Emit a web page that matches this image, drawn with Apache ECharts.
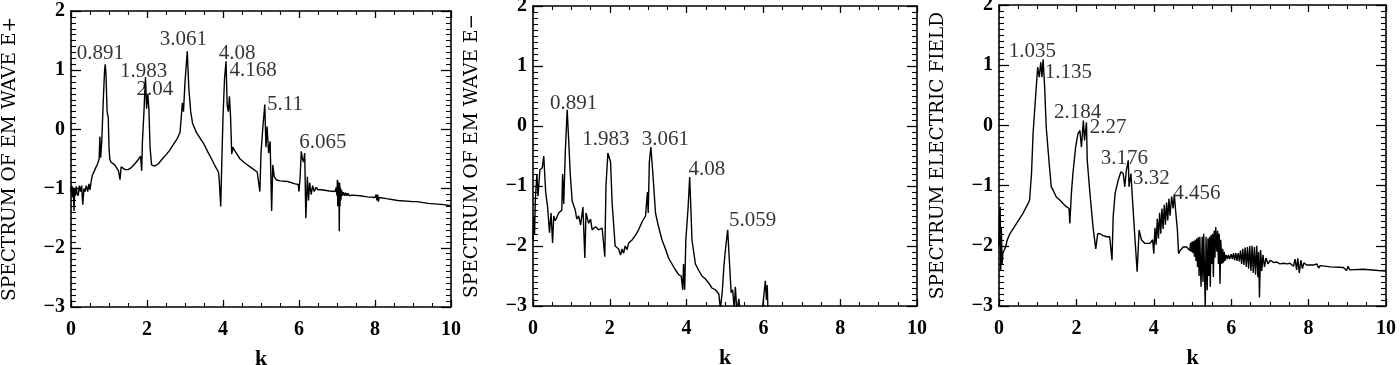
<!DOCTYPE html>
<html><head><meta charset="utf-8">
<script src="https://cdn.jsdelivr.net/npm/echarts@6/dist/echarts.min.js"></script>
<style>html,body{margin:0;padding:0;background:#fff}#c{width:1400px;height:365px}</style>
</head><body><div id="c"></div>
<script>
// ---------- data ----------
const panelTitles = ['SPECTRUM OF EM WAVE E+', 'SPECTRUM OF EM WAVE E\u2212', 'SPECTRUM ELECTRIC FIELD'];
const xAxisTitle = 'k';
const xRange = [0, 10];
const yRange = [-3, 2];

// [k, log spectrum]
const spectrumEPlus = [
[0.00,-1.05],[0.02,-0.95],[0.04,-1.15],[0.06,-0.98],[0.08,-1.38],[0.10,-1.0],[0.12,-1.12],[0.14,-0.96],[0.16,-1.08],[0.19,-1.12],[0.22,-0.95],
[0.25,-1.05],[0.28,-0.95],[0.31,-1.27],[0.34,-1.0],[0.37,-1.05],[0.40,-0.95],[0.44,-1.05],[0.47,-0.92],[0.50,-1.02],[0.53,-0.88],
[0.56,-0.78],[0.60,-0.75],[0.65,-0.65],[0.70,-0.58],[0.74,-0.5],[0.76,-0.12],[0.78,-0.48],[0.81,-0.2],[0.85,0.5],[0.88,0.95],
[0.90,1.1],[0.92,0.95],[0.95,0.3],[0.98,0.2],[1.00,-0.3],[1.02,-0.5],[1.05,-0.55],[1.10,-0.58],[1.15,-0.6],[1.20,-0.62],
[1.25,-0.7],[1.29,-0.85],[1.32,-0.63],[1.36,-0.65],[1.42,-0.68],[1.50,-0.68],[1.58,-0.65],[1.65,-0.6],[1.72,-0.55],[1.78,-0.5],
[1.83,-0.45],[1.86,-0.7],[1.88,-0.2],[1.92,0.3],[1.96,0.88],[1.99,0.35],[2.02,0.6],[2.05,0.35],[2.08,-0.3],[2.12,-0.6],
[2.20,-0.62],[2.30,-0.58],[2.40,-0.5],[2.50,-0.43],[2.60,-0.35],[2.70,-0.25],[2.80,-0.15],[2.87,-0.05],[2.93,0.45],[2.96,0.3],
[3.00,0.8],[3.06,1.32],[3.10,0.7],[3.15,0.3],[3.20,0.1],[3.30,-0.05],[3.40,-0.15],[3.50,-0.25],[3.60,-0.38],[3.70,-0.5],
[3.80,-0.63],[3.88,-0.72],[3.90,-0.85],[3.94,-1.3],[3.97,-0.5],[4.00,0.2],[4.04,0.85],[4.08,1.15],[4.11,0.4],[4.14,0.3],
[4.17,0.56],[4.20,0.2],[4.23,-0.42],[4.26,-0.3],[4.30,-0.35],[4.35,-0.4],[4.45,-0.5],[4.60,-0.58],[4.75,-0.65],[4.90,-0.72],
[4.95,-0.75],[4.97,-1.05],[5.00,-0.4],[5.05,0.05],[5.10,0.42],[5.13,-0.3],[5.16,0.05],[5.20,-0.4],[5.24,-0.2],[5.28,-1.38],
[5.31,-0.6],[5.35,-0.8],[5.40,-0.85],[5.50,-0.87],[5.70,-0.88],[5.90,-0.92],[5.98,-0.93],[6.00,-1.05],[6.03,-0.8],[6.06,-0.37],
[6.09,-0.5],[6.12,-0.55],[6.15,-0.4],[6.18,-1.5],[6.22,-0.8],[6.25,-1.2],[6.28,-0.9],[6.32,-1.1],[6.36,-0.95],[6.40,-1.05],
[6.45,-0.98],[6.50,-1.02],[6.60,-1.02],[6.80,-1.04],[6.95,-1.05],[6.98,-0.98],[7.00,-1.12],[7.01,-0.85],[7.02,-1.3],[7.03,-0.88],
[7.04,-1.25],[7.05,-0.95],[7.06,-1.72],[7.07,-0.9],[7.08,-1.3],[7.09,-0.98],[7.10,-1.2],[7.12,-1.02],[7.14,-1.12],[7.17,-1.06],
[7.20,-1.12],[7.23,-1.07],[7.26,-1.12],[7.29,-1.08],[7.32,-1.12],[7.36,-1.09],[7.40,-1.11],[7.60,-1.12],[7.80,-1.14],[8.00,-1.15],
[8.03,-1.1],[8.05,-1.2],[8.07,-1.1],[8.09,-1.22],[8.11,-1.15],[8.30,-1.17],[8.60,-1.2],[9.00,-1.22],[9.10,-1.22],[9.12,-1.25],
[9.14,-1.22],[9.40,-1.25],[9.80,-1.27],[10.00,-1.29]
];

const spectrumEMinus = [
[0.00,-1.9],[0.02,-1.5],[0.04,-1.8],[0.06,-1.25],[0.10,-0.8],[0.13,-1.17],[0.18,-0.73],[0.24,-0.7],[0.28,-0.5],[0.33,-1.1],
[0.38,-1.35],[0.43,-1.78],[0.47,-1.45],[0.51,-1.95],[0.54,-1.5],[0.58,-1.58],[0.67,-1.45],[0.75,-1.4],[0.77,-0.8],[0.80,-1.3],
[0.84,-0.45],[0.89,0.27],[0.93,-0.25],[0.97,-0.8],[1.02,-1.25],[1.10,-1.4],[1.14,-1.55],[1.19,-1.5],[1.24,-1.65],[1.30,-1.35],[1.35,-2.2],
[1.38,-1.45],[1.42,-1.55],[1.45,-1.62],[1.50,-1.55],[1.54,-1.73],[1.63,-1.68],[1.71,-1.73],[1.80,-1.7],[1.87,-2.18],[1.90,-1.0],[1.95,-0.45],[1.99,-0.42],
[2.02,-0.6],[2.06,-1.28],[2.14,-2.0],[2.23,-2.05],[2.28,-2.15],[2.32,-2.05],[2.36,-2.12],[2.40,-2.0],[2.45,-2.06],[2.49,-1.95],[2.58,-1.9],[2.67,-1.82],[2.75,-1.73],
[2.84,-1.6],[2.93,-1.5],[2.98,-1.1],[3.00,-1.45],[3.03,-0.6],[3.07,-0.35],[3.12,-0.78],[3.19,-1.45],[3.27,-1.68],[3.36,-1.9],
[3.45,-2.05],[3.53,-2.2],[3.62,-2.3],[3.71,-2.4],[3.80,-2.48],[3.86,-2.5],[3.90,-2.73],[3.92,-2.3],[3.95,-2.73],[3.98,-1.9],
[4.04,-1.35],[4.08,-0.85],[4.11,-1.35],[4.14,-1.9],[4.23,-2.3],[4.31,-2.4],[4.40,-2.5],[4.49,-2.55],[4.58,-2.62],[4.66,-2.7],
[4.75,-2.73],[4.84,-2.8],[4.88,-3.05],[4.93,-2.75],[4.97,-2.35],[5.01,-2.07],[5.07,-1.73],[5.11,-2.2],[5.16,-2.78],[5.20,-2.73],
[5.24,-3.05],[5.27,-2.68],[5.31,-3.1],[5.36,-2.88],[5.40,-3.1],[5.50,-3.3],[5.70,-3.5],[5.90,-3.4],[5.97,-3.1],[6.00,-2.9],
[6.05,-2.58],[6.08,-2.9],[6.10,-2.65],[6.12,-3.1],[6.20,-3.4]
];

const spectrumField = [
[0.00,-2.0],[0.015,-1.5],[0.03,-1.35],[0.045,-2.4],[0.06,-1.7],[0.08,-2.3],[0.10,-2.12],[0.17,-2.02],[0.21,-1.91],[0.28,-1.8],
[0.45,-1.63],[0.62,-1.46],[0.75,-1.3],[0.79,-1.24],[0.84,-0.8],[0.88,-0.14],[0.95,0.52],[1.00,0.97],[1.04,0.8],[1.08,1.05],
[1.11,0.8],[1.14,1.1],[1.18,0.63],[1.22,-0.03],[1.29,-0.58],[1.35,-1.02],[1.40,-1.08],[1.48,-1.19],[1.57,-1.24],[1.66,-1.3],
[1.74,-1.35],[1.81,-1.38],[1.83,-1.63],[1.87,-1.13],[1.91,-0.8],[1.98,-0.36],[2.04,-0.14],[2.09,-0.08],[2.13,-0.36],[2.18,0.08],
[2.21,-0.25],[2.26,0.05],[2.28,-0.58],[2.35,-1.13],[2.43,-1.69],[2.50,-2.05],[2.55,-1.8],[2.61,-1.8],[2.69,-1.83],[2.78,-1.85],
[2.86,-1.85],[2.92,-2.24],[2.95,-1.52],[3.00,-1.13],[3.08,-0.91],[3.15,-0.77],[3.21,-0.8],[3.25,-1.02],[3.29,-0.75],[3.34,-0.58],
[3.36,-1.02],[3.41,-0.8],[3.45,-1.24],[3.51,-1.85],[3.57,-2.43],[3.62,-1.74],[3.68,-1.9],[3.77,-1.96],[3.90,-1.96],[3.97,-1.9],
[4.00,-2.13],[4.03,-1.7],[4.06,-1.98],[4.09,-1.55],[4.12,-1.88],[4.15,-1.45],[4.18,-1.8],[4.21,-1.38],[4.24,-1.72],[4.27,-1.32],
[4.30,-1.65],[4.33,-1.28],[4.36,-1.58],[4.39,-1.22],[4.42,-1.5],[4.46,-1.18],[4.50,-1.38],[4.53,-1.15],[4.57,-1.46],[4.61,-1.74],[4.64,-2.13],
[4.69,-2.07],[4.76,-2.02],[4.85,-2.02],[4.90,-2.0],[4.93,-2.08],[4.95,-1.95],[4.97,-2.1],[4.99,-1.93],[5.01,-2.12],[5.03,-1.92],
[5.05,-2.18],[5.07,-1.9],[5.09,-2.25],[5.11,-1.88],[5.13,-2.35],[5.15,-1.86],[5.17,-2.5],[5.19,-1.85],[5.22,-2.68],[5.25,-1.85],
[5.27,-2.6],[5.29,-1.8],[5.33,-3.05],[5.35,-1.85],[5.38,-2.74],[5.40,-1.88],[5.42,-2.5],[5.44,-1.85],[5.46,-2.68],[5.48,-1.82],
[5.50,-2.3],[5.52,-1.8],[5.54,-2.52],[5.56,-1.75],[5.58,-2.2],[5.60,-1.69],[5.63,-2.1],[5.65,-1.75],[5.67,-2.3],[5.69,-1.8],
[5.71,-2.63],[5.73,-1.9],[5.76,-2.3],[5.78,-2.05],[5.80,-2.28],[5.82,-2.1],[5.84,-2.25],[5.87,-2.15],[5.90,-2.22],[5.93,-2.15],
[5.96,-2.22],[6.00,-2.14],[6.03,-2.22],[6.06,-2.12],[6.09,-2.24],[6.12,-2.12],[6.15,-2.25],[6.18,-2.12],[6.21,-2.26],[6.24,-2.08],
[6.27,-2.3],[6.30,-2.05],[6.33,-2.32],[6.36,-2.03],[6.39,-2.35],[6.42,-2.02],[6.45,-2.38],[6.48,-2.0],[6.51,-2.42],[6.54,-2.0],
[6.57,-2.45],[6.60,-2.02],[6.63,-2.48],[6.66,-2.0],[6.69,-2.52],[6.71,-2.1],[6.73,-2.86],[6.76,-2.07],[6.79,-2.42],[6.82,-2.15],
[6.86,-2.35],[6.90,-2.2],[6.95,-2.3],[7.01,-2.24],[7.10,-2.28],[7.18,-2.27],[7.26,-2.3],[7.35,-2.29],[7.45,-2.3],[7.52,-2.29],
[7.57,-2.26],[7.61,-2.34],[7.65,-2.22],[7.69,-2.4],[7.72,-2.21],[7.76,-2.45],[7.80,-2.24],[7.84,-2.38],[7.88,-2.28],[7.95,-2.32],
[8.13,-2.32],[8.21,-2.3],[8.26,-2.37],[8.30,-2.33],[8.56,-2.35],[8.90,-2.36],[8.94,-2.33],[8.98,-2.41],[9.02,-2.34],[9.06,-2.4],
[9.10,-2.37],[9.42,-2.39],[9.80,-2.41],[10.00,-2.42]
];

// peak annotations: [text, k, value] (text centre)
const peaksEPlus = [['0.891',0.77,1.29],['1.983',1.91,0.98],['2.04',2.21,0.67],['3.061',2.96,1.52],['4.08',4.37,1.29],['4.168',4.79,0.99],['5.11',5.63,0.42],['6.065',6.63,-0.22]];
const peaksEMinus = [['0.891',1.06,0.38],['1.983',1.90,-0.22],['3.061',3.45,-0.22],['4.08',4.53,-0.73],['5.059',5.72,-1.58]];
const peaksField = [['1.035',0.86,1.22],['1.135',1.79,0.88],['2.184',2.03,0.22],['2.27',2.82,-0.04],['3.176',3.24,-0.55],['3.32',3.94,-0.88],['4.456',5.11,-1.13]];

// ---------- chart ----------
const SERIF = '"Liberation Serif", "Times New Roman", serif';
const TITLE_FONT = '"DejaVu Serif", serif';
const spectra = [spectrumEPlus, spectrumEMinus, spectrumField];
const peaks = [peaksEPlus, peaksEMinus, peaksField];
const gridBoxes = [
  {left:71, top:11, width:380, height:296},
  {left:533, top:6, width:384, height:300},
  {left:999, top:5, width:387, height:301}
];
const minus = v => String(v).replace('-', '\u2212');

const grid = [], xAxis = [], yAxis = [], series = [];
gridBoxes.forEach((g, i) => {
  grid.push(Object.assign({containLabel:false, outerBoundsMode:'none'}, g));
  const common = {
    type:'value', gridIndex:i,
    axisLine:{show:true, onZero:false, lineStyle:{color:'#000', width:1.6}},
    splitLine:{show:false},
    axisTick:{show:true, inside:true, lineStyle:{color:'#000', width:1.3}},
    minorTick:{show:true, lineStyle:{color:'#000', width:1.1}}
  };
  const xc = Object.assign({}, common, {min:xRange[0], max:xRange[1], interval:2,
    axisTick:Object.assign({}, common.axisTick, {length:7}),
    minorTick:Object.assign({}, common.minorTick, {splitNumber:4, length:4})});
  const yc = Object.assign({}, common, {min:yRange[0], max:yRange[1], interval:1,
    axisTick:Object.assign({}, common.axisTick, {length:10}),
    minorTick:Object.assign({}, common.minorTick, {splitNumber:10, length:5})});
  xAxis.push(Object.assign({}, xc, {position:'bottom',
    name:xAxisTitle, nameLocation:'middle', nameGap:41,
    nameTextStyle:{fontFamily:SERIF, fontSize:22, fontWeight:'bold', color:'#000'},
    axisLabel:{show:true, margin:13, fontFamily:SERIF, fontSize:20, fontWeight:'bold', color:'#000', formatter:minus}}));
  xAxis.push(Object.assign({}, xc, {position:'top', axisLabel:{show:false}}));
  yAxis.push(Object.assign({}, yc, {position:'left',
    name:panelTitles[i], nameLocation:'middle', nameRotate:90, nameGap:51,
    nameTextStyle:{fontFamily:TITLE_FONT, fontSize:18.5, color:'#000'},
    axisLabel:{show:true, margin:6, fontFamily:SERIF, fontSize:20, fontWeight:'bold', color:'#000', formatter:minus}}));
  yAxis.push(Object.assign({}, yc, {position:'right', axisLabel:{show:false}}));
  series.push({
    type:'line', xAxisIndex:2*i, yAxisIndex:2*i, data:spectra[i],
    showSymbol:false, symbol:'none', clip:true, animation:false,
    lineStyle:{color:'#000', width:1.4}
  });
  series.push({
    type:'scatter', xAxisIndex:2*i, yAxisIndex:2*i, symbolSize:0, animation:false,
    data:peaks[i].map(p => ({value:[p[1], p[2]], name:p[0]})),
    label:{show:true, position:'inside', formatter:p => p.name,
      fontFamily:SERIF, fontSize:21, color:'#000'}
  });
});

const chart = echarts.init(document.getElementById('c'), null, {renderer:'canvas'});
chart.setOption({animation:false, backgroundColor:'#fff', grid, xAxis, yAxis, series});
</script></body></html>
